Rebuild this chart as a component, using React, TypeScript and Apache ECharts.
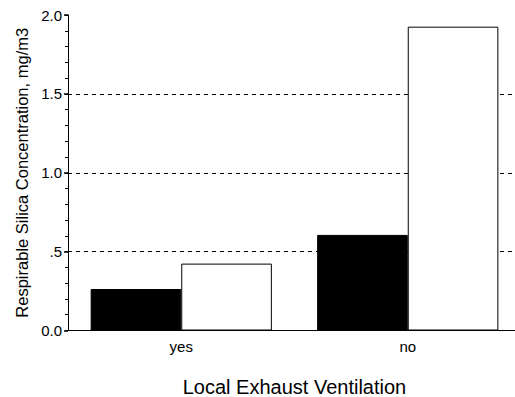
import React, { useEffect, useRef } from "react";
import * as echarts from "echarts";

const categories = ["yes", "no"];
const blackValues = [0.263, 0.606];
const whiteValues = [0.424, 1.926];
const yTickLabels: Record<string, string> = { "0": "0.0", "0.5": ".5", "1": "1.0", "1.5": "1.5", "2": "2.0" };

const FONT = "'Liberation Sans', Arial, sans-serif";

export default function App() {
  const ref = useRef<HTMLDivElement>(null);
  useEffect(() => {
    document.body.style.margin = "0";
    const chart = echarts.init(ref.current!, null, { renderer: "svg" });
    chart.setOption({
      animation: false,
      backgroundColor: "#ffffff",
      grid: {
        left: 68,
        top: 15,
        width: 453,
        height: 315.5,
        show: false,
        containLabel: false,
        outerBoundsMode: "none",
      },
      xAxis: [
        {
          type: "category",
          data: categories,
          axisLine: { show: true, lineStyle: { color: "#000", width: 1 } },
          axisTick: { show: false },
          axisLabel: { color: "#000", fontSize: 15, fontFamily: FONT, margin: 8 },
          name: "Local Exhaust Ventilation",
          nameLocation: "middle",
          nameGap: 46,
          nameTextStyle: { color: "#000", fontSize: 20, fontFamily: FONT },
        },
        {
          type: "category",
          data: categories,
          position: "top",
          axisLine: { show: true, lineStyle: { color: "#000", width: 1 } },
          axisTick: { show: false },
          axisLabel: { show: false },
          splitLine: { show: false },
        },
      ],
      yAxis: [
        {
          type: "value",
          min: 0,
          max: 2,
          interval: 0.5,
          position: "left",
          axisLine: { show: true, lineStyle: { color: "#000", width: 1 } },
          axisTick: { show: true, inside: false, length: 4, lineStyle: { color: "#000", width: 1.5 } },
          axisLabel: {
            color: "#000",
            fontSize: 15,
            fontFamily: FONT,
            margin: 6,
            formatter: (v: number) => yTickLabels[String(v)] ?? String(v),
          },
          splitLine: {
            show: true,
            showMinLine: false,
            showMaxLine: false,
            lineStyle: { color: "#000", type: [4, 4], width: 1 },
          },
          name: "Respirable Silica Concentration, mg/m3",
          nameLocation: "middle",
          nameGap: 38,
          nameTextStyle: { color: "#000", fontSize: 16.5, fontFamily: FONT },
        },
        {
          type: "value",
          min: 0,
          max: 2,
          interval: 0.1,
          position: "left",
          offset: 0,
          axisLine: { show: false },
          axisTick: { show: true, inside: false, length: 3, lineStyle: { color: "#000", width: 1 } },
          axisLabel: { show: false },
          splitLine: { show: false },
        },
      ],
      series: [
        {
          name: "black",
          type: "bar",
          data: blackValues,
          barGap: "0%",
          barCategoryGap: "20%",
          itemStyle: { color: "#000", borderColor: "#000", borderWidth: 1 },
        },
        {
          name: "white",
          type: "bar",
          data: whiteValues,
          barGap: "0%",
          barCategoryGap: "20%",
          itemStyle: { color: "#fff", borderColor: "#000", borderWidth: 1 },
        },
      ],
    });
    return () => chart.dispose();
  }, []);
  return <div ref={ref} style={{ width: 515, height: 397, position: "absolute", left: 0, top: 0 }} />;
}
